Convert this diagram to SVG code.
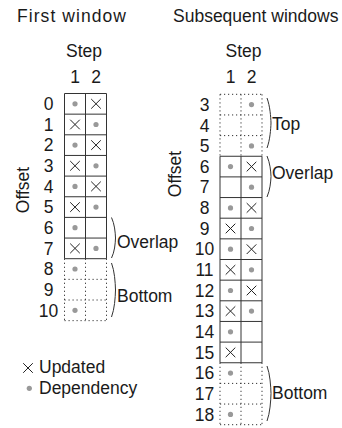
<svg xmlns="http://www.w3.org/2000/svg" xmlns:xlink="http://www.w3.org/1999/xlink" width="342" height="428" viewBox="0 0 342 428">
<style>
text{font-family:"Liberation Sans",Arial,sans-serif;font-size:17.5px;fill:#1a1a1a}
.n{text-anchor:middle}
.grid{fill:none;stroke:#333;stroke-width:1}
.dot{fill:none;stroke:#333;stroke-width:1;stroke-dasharray:1.2 2.8}
.brace{fill:none;stroke:#333;stroke-width:1}
</style>
<defs>
<path id="x" d="M-4.8,-4.8L4.8,4.8M4.8,-4.8L-4.8,4.8" fill="none" stroke="#222" stroke-width="1"/>
<circle id="d" r="2.6" fill="#999"/>
</defs>
<rect width="342" height="428" fill="#fff"/>
<text x="17" y="22" textLength="109" lengthAdjust="spacing">First window</text>
<text x="173" y="22">Subsequent windows</text>

<g id="first-window">
<text class="n" x="84" y="57">Step</text>
<text class="n" x="75" y="82.5">1</text>
<text class="n" x="96" y="82.5">2</text>
<text class="n" transform="translate(29,190) rotate(-90)">Offset</text>
<text class="n" x="48.5" y="110">0</text>
<text class="n" x="48.5" y="130.7">1</text>
<text class="n" x="48.5" y="151.3">2</text>
<text class="n" x="48.5" y="172">3</text>
<text class="n" x="48.5" y="192.6">4</text>
<text class="n" x="48.5" y="213.3">5</text>
<text class="n" x="48.5" y="233.9">6</text>
<text class="n" x="48.5" y="254.6">7</text>
<text class="n" x="48.5" y="275.2">8</text>
<text class="n" x="48.5" y="295.9">9</text>
<text class="n" x="48.5" y="316.5">10</text>
<path class="grid" d="M64.5,93.5H106.5V258.7H64.5Z M85.5,93.5V258.7 M64.5,114.15H106.5 M64.5,134.8H106.5 M64.5,155.45H106.5 M64.5,176.1H106.5 M64.5,196.75H106.5 M64.5,217.4H106.5 M64.5,238.05H106.5"/>
<path class="dot" d="M64.5,258.7V320.65 M85.5,258.7V320.65 M106.5,258.7V320.65 M64.5,279.35H106.5 M64.5,300H106.5 M64.5,320.65H106.5"/>
<use xlink:href="#d" x="75" y="103.8"/><use xlink:href="#x" x="96" y="103.8"/>
<use xlink:href="#x" x="75" y="124.5"/><use xlink:href="#d" x="96" y="124.5"/>
<use xlink:href="#d" x="75" y="145.1"/><use xlink:href="#x" x="96" y="145.1"/>
<use xlink:href="#x" x="75" y="165.8"/><use xlink:href="#d" x="96" y="165.8"/>
<use xlink:href="#d" x="75" y="186.4"/><use xlink:href="#x" x="96" y="186.4"/>
<use xlink:href="#x" x="75" y="207.1"/><use xlink:href="#d" x="96" y="207.1"/>
<use xlink:href="#d" x="75" y="227.7"/>
<use xlink:href="#x" x="75" y="248.4"/><use xlink:href="#d" x="96" y="248.4"/>
<use xlink:href="#d" x="75" y="269"/>
<use xlink:href="#d" x="75" y="310.3"/>
<path class="brace" d="M111.5,217.5C114.5,224 115.3,232 115.5,238C115.3,244 114.5,252 111.5,258"/>
<text x="117" y="248">Overlap</text>
<path class="brace" d="M111.5,263C114.5,271 115.3,282 115.5,290C115.3,298 114.5,309 111.5,317"/>
<text x="117" y="302">Bottom</text>
</g>

<g id="subsequent-windows">
<text class="n" x="243.5" y="57">Step</text>
<text class="n" x="230.5" y="82.5">1</text>
<text class="n" x="251.5" y="82.5">2</text>
<text class="n" transform="translate(181,174) rotate(-90)">Offset</text>
<text class="n" x="204.5" y="110.8">3</text>
<text class="n" x="204.5" y="131.5">4</text>
<text class="n" x="204.5" y="152.1">5</text>
<text class="n" x="204.5" y="172.8">6</text>
<text class="n" x="204.5" y="193.4">7</text>
<text class="n" x="204.5" y="214.1">8</text>
<text class="n" x="204.5" y="234.7">9</text>
<text class="n" x="204.5" y="255.4">10</text>
<text class="n" x="204.5" y="276">11</text>
<text class="n" x="204.5" y="296.7">12</text>
<text class="n" x="204.5" y="317.3">13</text>
<text class="n" x="204.5" y="338">14</text>
<text class="n" x="204.5" y="358.6">15</text>
<text class="n" x="204.5" y="379.3">16</text>
<text class="n" x="204.5" y="399.9">17</text>
<text class="n" x="204.5" y="420.6">18</text>
<path class="dot" d="M220,94.3H262 M220,114.95H262 M220,135.6H262 M220,94.3V156.25 M241,94.3V156.25 M262,94.3V156.25"/>
<path class="grid" d="M220,156.25H262V362.75H220Z M241,156.25V362.75 M220,176.9H262 M220,197.55H262 M220,218.2H262 M220,238.85H262 M220,259.5H262 M220,280.15H262 M220,300.8H262 M220,321.45H262 M220,342.1H262"/>
<path class="dot" d="M220,362.75V424.7 M241,362.75V424.7 M262,362.75V424.7 M220,383.4H262 M220,404.05H262 M220,424.7H262"/>
<use xlink:href="#d" x="251.5" y="104.6"/>
<use xlink:href="#d" x="251.5" y="145.9"/>
<use xlink:href="#d" x="230.5" y="166.6"/><use xlink:href="#x" x="251.5" y="166.6"/>
<use xlink:href="#d" x="251.5" y="187.2"/>
<use xlink:href="#d" x="230.5" y="207.9"/><use xlink:href="#x" x="251.5" y="207.9"/>
<use xlink:href="#x" x="230.5" y="228.5"/><use xlink:href="#d" x="251.5" y="228.5"/>
<use xlink:href="#d" x="230.5" y="249.2"/><use xlink:href="#x" x="251.5" y="249.2"/>
<use xlink:href="#x" x="230.5" y="269.8"/><use xlink:href="#d" x="251.5" y="269.8"/>
<use xlink:href="#d" x="230.5" y="290.5"/><use xlink:href="#x" x="251.5" y="290.5"/>
<use xlink:href="#x" x="230.5" y="311.1"/><use xlink:href="#d" x="251.5" y="311.1"/>
<use xlink:href="#d" x="230.5" y="331.8"/>
<use xlink:href="#x" x="230.5" y="352.4"/>
<use xlink:href="#d" x="230.5" y="373.1"/>
<use xlink:href="#d" x="230.5" y="414.4"/>
<path class="brace" d="M267,98C270,106 270.8,117 271,123C270.8,129 270,140 267,148"/>
<text x="272" y="130">Top</text>
<path class="brace" d="M267,156C270,163 270.8,171 271,176.5C270.8,182 270,190 267,197"/>
<text x="272" y="179">Overlap</text>
<path class="brace" d="M267,366C270,374 270.8,386 271,393.5C270.8,401 270,413 267,421"/>
<text x="272" y="399">Bottom</text>
</g>

<g id="legend">
<use xlink:href="#x" x="28" y="368"/>
<text x="39" y="373">Updated</text>
<use xlink:href="#d" x="29.3" y="388.3"/>
<text x="39" y="393.5">Dependency</text>
</g>
</svg>
